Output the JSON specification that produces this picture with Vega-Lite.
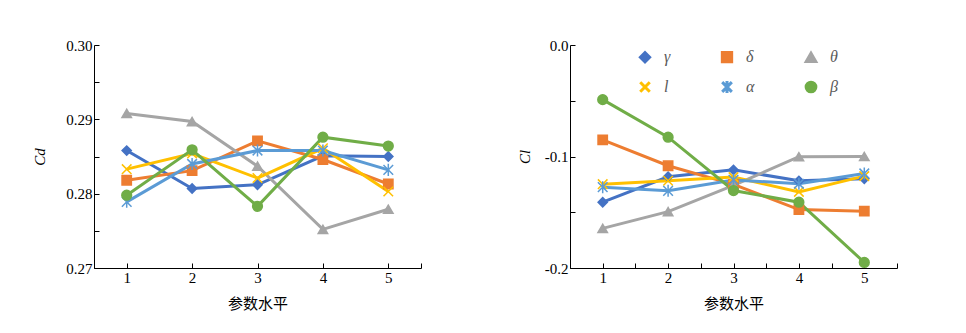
{
  "$schema": "https://vega.github.io/schema/vega-lite/v6.json",
  "padding": {"left": 32, "top": 38, "right": 5, "bottom": 5},
  "background": "white",
  "datasets": {
    "cd": [
      {"x": 1, "series": "γ", "v": 0.2858}, {"x": 2, "series": "γ", "v": 0.2807}, {"x": 3, "series": "γ", "v": 0.2812}, {"x": 4, "series": "γ", "v": 0.2851}, {"x": 5, "series": "γ", "v": 0.2850},
      {"x": 1, "series": "δ", "v": 0.2818}, {"x": 2, "series": "δ", "v": 0.2831}, {"x": 3, "series": "δ", "v": 0.2871}, {"x": 4, "series": "δ", "v": 0.2846}, {"x": 5, "series": "δ", "v": 0.2813},
      {"x": 1, "series": "θ", "v": 0.2908}, {"x": 2, "series": "θ", "v": 0.2897}, {"x": 3, "series": "θ", "v": 0.2837}, {"x": 4, "series": "θ", "v": 0.2752}, {"x": 5, "series": "θ", "v": 0.2779},
      {"x": 1, "series": "l", "v": 0.2833}, {"x": 2, "series": "l", "v": 0.2854}, {"x": 3, "series": "l", "v": 0.2821}, {"x": 4, "series": "l", "v": 0.2861}, {"x": 5, "series": "l", "v": 0.2803},
      {"x": 1, "series": "α", "v": 0.2789}, {"x": 2, "series": "α", "v": 0.2840}, {"x": 3, "series": "α", "v": 0.2858}, {"x": 4, "series": "α", "v": 0.2858}, {"x": 5, "series": "α", "v": 0.2832},
      {"x": 1, "series": "β", "v": 0.2798}, {"x": 2, "series": "β", "v": 0.2859}, {"x": 3, "series": "β", "v": 0.2783}, {"x": 4, "series": "β", "v": 0.2876}, {"x": 5, "series": "β", "v": 0.2864}
    ],
    "cl": [
      {"x": 1, "series": "γ", "v": -0.1410}, {"x": 2, "series": "γ", "v": -0.1182}, {"x": 3, "series": "γ", "v": -0.1120}, {"x": 4, "series": "γ", "v": -0.1218}, {"x": 5, "series": "γ", "v": -0.1200},
      {"x": 1, "series": "δ", "v": -0.0851}, {"x": 2, "series": "δ", "v": -0.1083}, {"x": 3, "series": "δ", "v": -0.1250}, {"x": 4, "series": "δ", "v": -0.1476}, {"x": 5, "series": "δ", "v": -0.1490},
      {"x": 1, "series": "θ", "v": -0.1645}, {"x": 2, "series": "θ", "v": -0.1495}, {"x": 3, "series": "θ", "v": -0.1260}, {"x": 4, "series": "θ", "v": -0.1002}, {"x": 5, "series": "θ", "v": -0.1000},
      {"x": 1, "series": "l", "v": -0.1248}, {"x": 2, "series": "l", "v": -0.1218}, {"x": 3, "series": "l", "v": -0.1185}, {"x": 4, "series": "l", "v": -0.1317}, {"x": 5, "series": "l", "v": -0.1176},
      {"x": 1, "series": "α", "v": -0.1275}, {"x": 2, "series": "α", "v": -0.1308}, {"x": 3, "series": "α", "v": -0.1210}, {"x": 4, "series": "α", "v": -0.1245}, {"x": 5, "series": "α", "v": -0.1152},
      {"x": 1, "series": "β", "v": -0.0490}, {"x": 2, "series": "β", "v": -0.0827}, {"x": 3, "series": "β", "v": -0.1305}, {"x": 4, "series": "β", "v": -0.1410}, {"x": 5, "series": "β", "v": -0.1950}
    ]
  },
  "hconcat": [
    {
      "width": 327,
      "height": 223,
      "data": {"name": "cd"},
      "encoding": {
        "x": {"field": "x", "type": "quantitative", "scale": {"domain": [0.5, 5.5], "nice": false, "zero": false},
              "axis": {"title": "参数水平", "titlePadding": 11, "values": [0.5, 1, 2, 3, 4, 5, 5.5], "labelExpr": "datum.value % 1 == 0 ? format(datum.value, 'd') : ''"}},
        "y": {"field": "v", "type": "quantitative", "scale": {"domain": [0.27, 0.30], "nice": false, "zero": false},
              "axis": {"title": "Cd", "titleFontStyle": "italic", "titlePadding": 18, "values": [0.27, 0.275, 0.28, 0.285, 0.29, 0.295, 0.30], "labelExpr": "round(datum.value*1000) % 10 == 0 ? format(datum.value, '.2f') : ''"}},
        "color": {"field": "series", "type": "nominal",
                  "scale": {"domain": ["γ", "δ", "θ", "l", "α", "β"], "range": ["#4472C4", "#ED7D31", "#A5A5A5", "#FFC000", "#5B9BD5", "#70AD47"]},
                  "legend": {"encoding": {"symbols": {"update": {
                    "strokeWidth": {"value": 3}
                  }}}}}
      },
      "layer": [
        {"mark": {"type": "line", "strokeWidth": 3}},
        {"mark": {"type": "point", "filled": true, "opacity": 1, "strokeWidth": 1.5},
         "encoding": {
           "shape": {"field": "series", "type": "nominal", "scale": {"domain": ["γ", "δ", "θ", "l", "α", "β"], "range": ["diamond", "square", "triangle-up", "M-1,-1L1,1M-1,1L1,-1", "M-1,-1L1,1M-1,1L1,-1M0,-1.25L0,1.25", "circle"]}},
           "stroke": {"field": "series", "type": "nominal", "legend": null, "scale": {"domain": ["γ", "δ", "θ", "l", "α", "β"], "range": ["#4472C4", "#ED7D31", "#A5A5A5", "#FFC000", "#5B9BD5", "#70AD47"]}},
           "size": {"field": "series", "type": "nominal", "legend": null, "scale": {"domain": ["γ", "δ", "θ", "l", "α", "β"], "range": [85, 95, 140, 100, 110, 125]}}
         }}
      ]
    },
    {
      "width": 327,
      "height": 223,
      "data": {"name": "cl"},
      "encoding": {
        "x": {"field": "x", "type": "quantitative", "scale": {"domain": [0.5, 5.5], "nice": false, "zero": false},
              "axis": {"title": "参数水平", "titlePadding": 11, "values": [0.5, 1, 1.5, 2, 2.5, 3, 3.5, 4, 4.5, 5, 5.5], "labelExpr": "datum.value % 1 == 0 ? format(datum.value, 'd') : ''"}},
        "y": {"field": "v", "type": "quantitative", "scale": {"domain": [-0.2, 0], "nice": false, "zero": false},
              "axis": {"title": "Cl", "titleFontStyle": "italic", "titlePadding": 12, "values": [-0.2, -0.15, -0.1, -0.05, 0], "labelExpr": "round(datum.value*100) % 10 == 0 ? replace(format(datum.value, '.1f'), '\u2212', '-') : ''"}},
        "color": {"field": "series", "type": "nominal"}
      },
      "layer": [
        {"mark": {"type": "line", "strokeWidth": 3}},
        {"mark": {"type": "point", "filled": true, "opacity": 1, "strokeWidth": 1.5},
         "encoding": {
           "shape": {"field": "series", "type": "nominal"},
           "stroke": {"field": "series", "type": "nominal", "legend": null},
           "size": {"field": "series", "type": "nominal", "legend": null}
         }}
      ]
    }
  ],
  "spacing": 149,
  "bounds": "flush",
  "resolve": {"scale": {"color": "shared", "shape": "shared", "stroke": "shared", "size": "shared"}},
  "config": {
    "font": "Liberation Serif",
    "view": {"stroke": null},
    "axis": {
      "grid": false,
      "domainColor": "#000000",
      "domainWidth": 1,
      "tickColor": "#000000",
      "tickSize": -5,
      "labelFont": "Liberation Serif",
      "labelFontSize": 15,
      "labelColor": "#000000",
      "labelPadding": 7,
      "titleFont": "Liberation Serif, Noto Sans CJK SC",
      "titleFontSize": 15,
      "titleFontWeight": "normal",
      "titleColor": "#000000",
      "titlePadding": 10
    },
    "legend": {
      "orient": "none",
      "legendX": 543,
      "legendY": 4,
      "direction": "horizontal",
      "columns": 3,
      "title": null,
      "padding": 0,
      "symbolSize": 1600,
      "symbolStrokeWidth": 3,
      "columnPadding": 45,
      "rowPadding": 6,
      "labelOffset": 11,
      "labelFont": "Liberation Serif",
      "labelFontSize": 16,
      "labelFontStyle": "italic",
      "labelColor": "#595959"
    }
  }
}
